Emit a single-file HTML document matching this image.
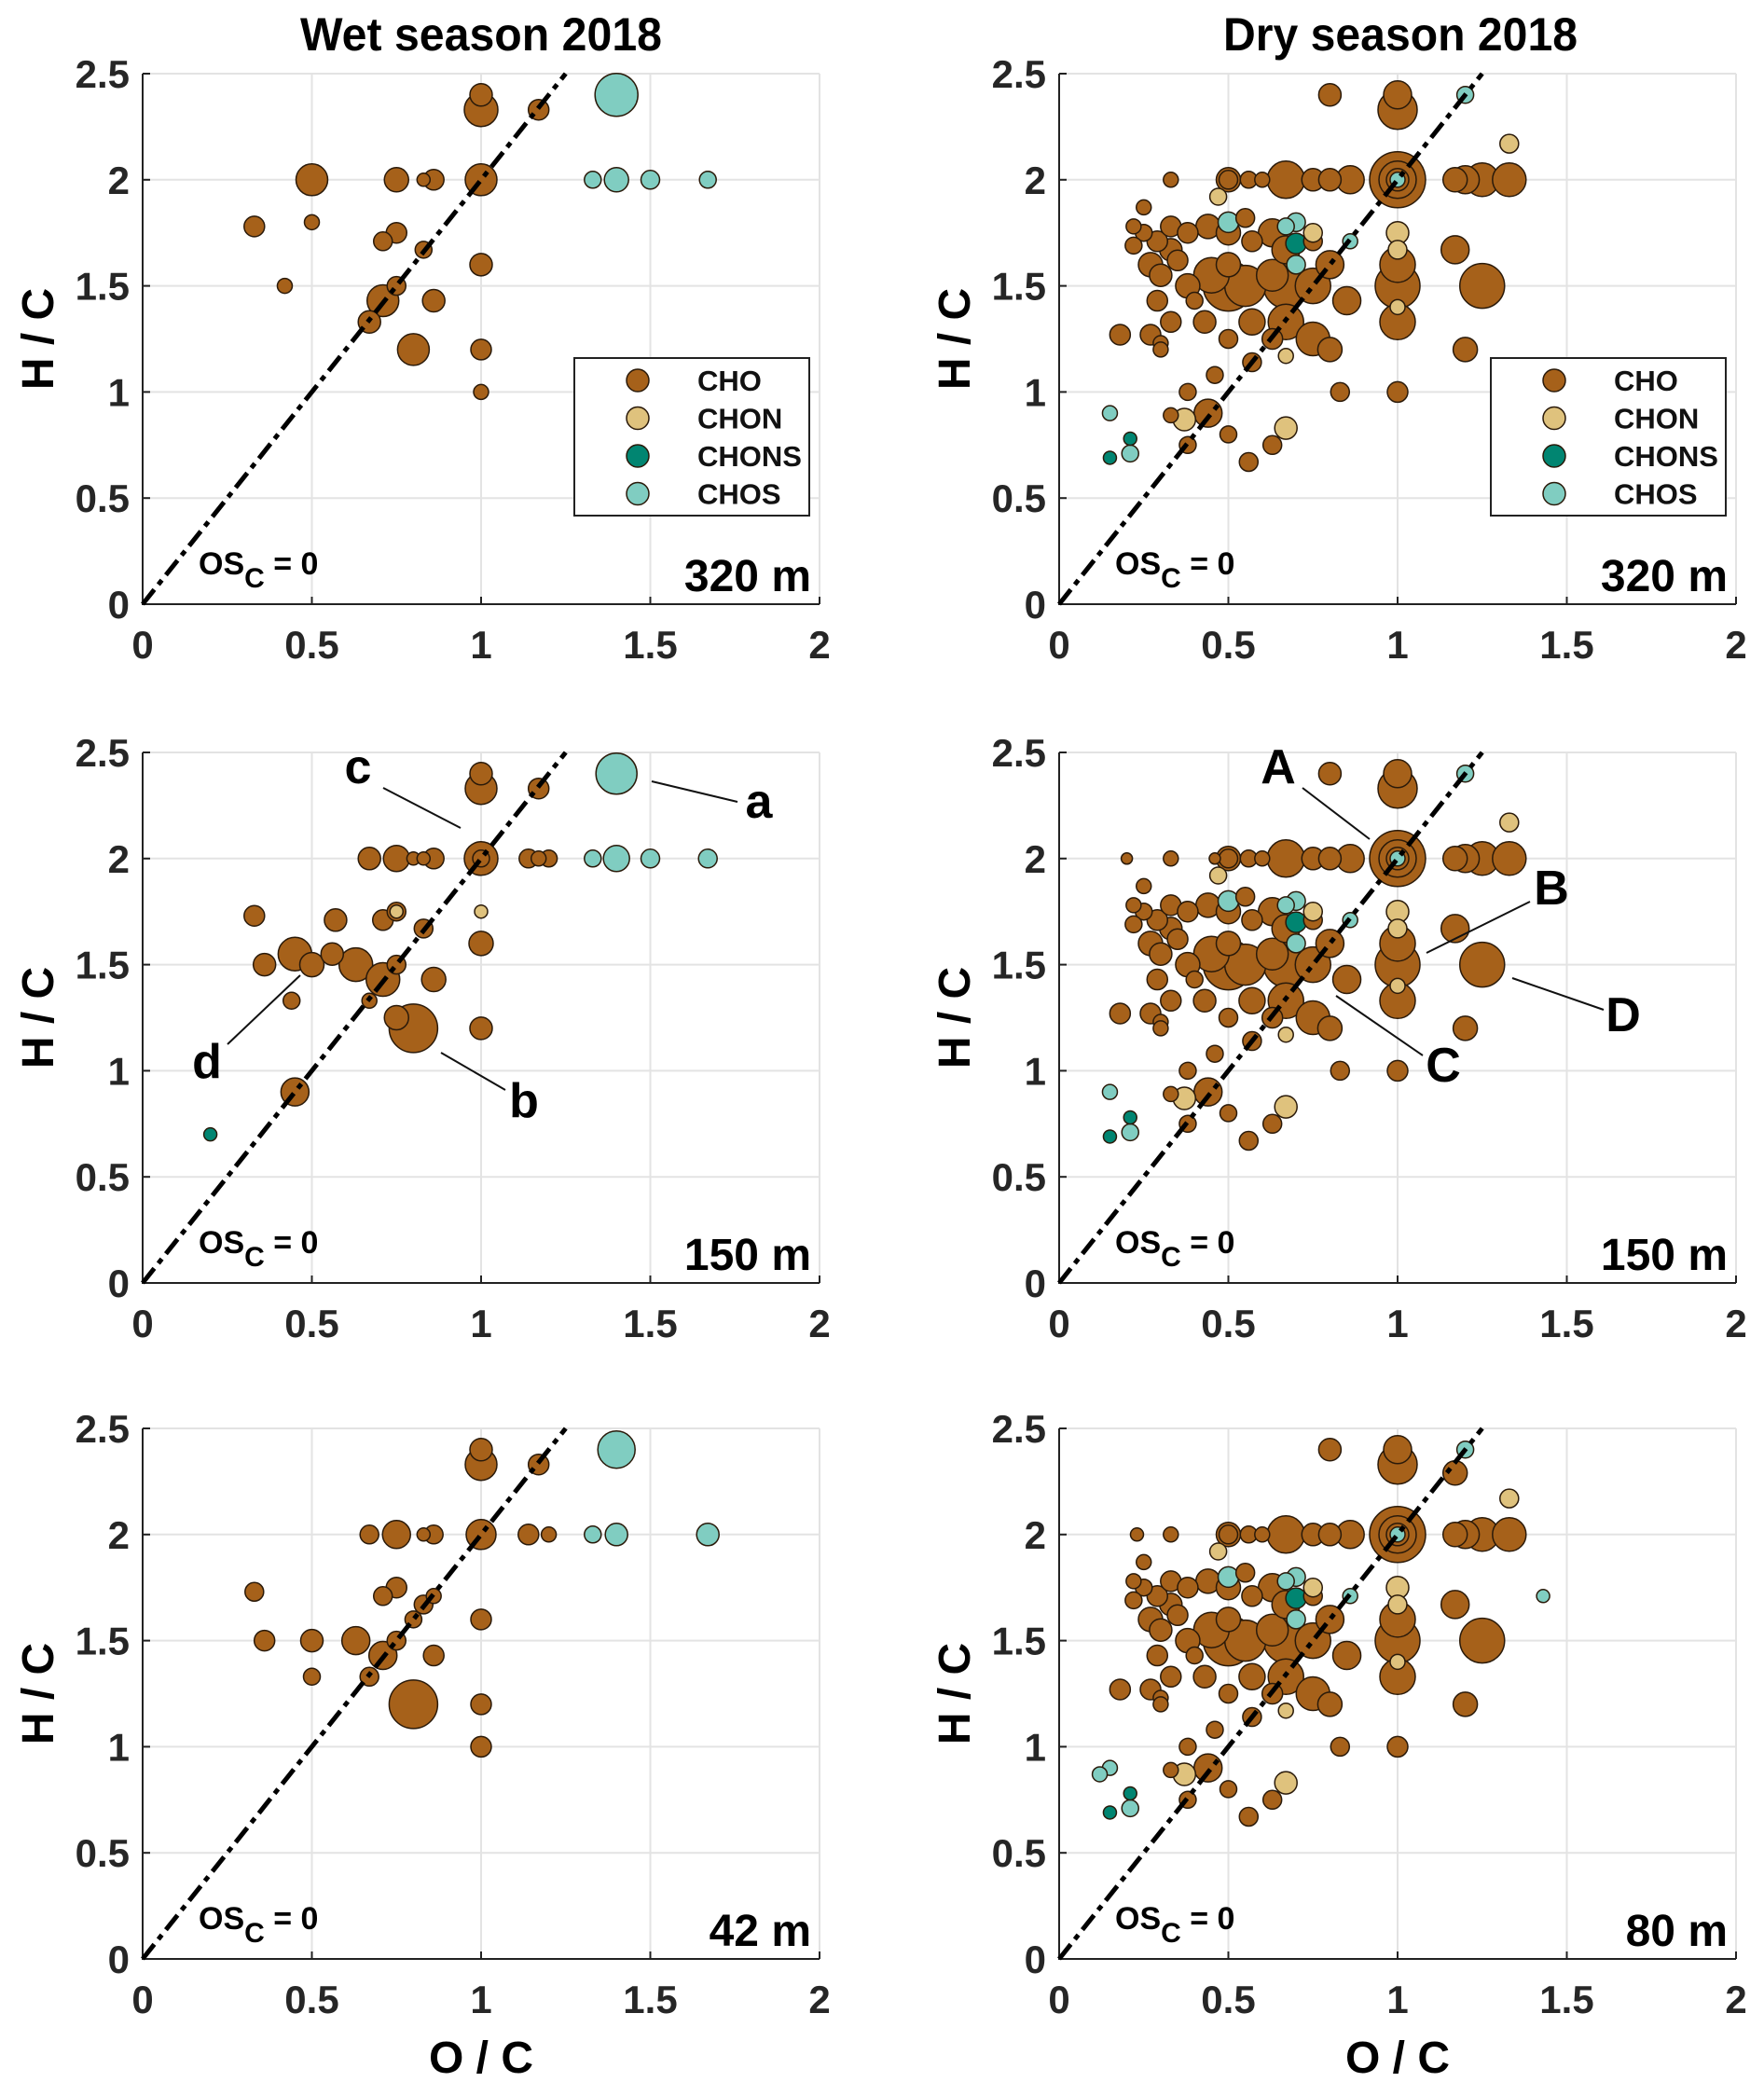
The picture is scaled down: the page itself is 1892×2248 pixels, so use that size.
<!DOCTYPE html>
<html><head><meta charset="utf-8">
<style>
html,body{margin:0;padding:0;background:#fff;}
svg{display:block;font-family:"Liberation Sans Narrow","Liberation Sans",Arial,sans-serif;font-weight:bold;}
.wide{font-family:"Liberation Sans",Arial,sans-serif;}
</style></head>
<body>
<svg id="fig" width="1892" height="2248" viewBox="0 0 1892 2248" xmlns="http://www.w3.org/2000/svg"></svg>
<script>
// ---- data: [O/C, H/C, marker radius, class] ----
const classNames = ["CHO","CHON","CHONS","CHOS"];
const xTicks = [0,0.5,1,1.5,2];
const yTicks = [0,0.5,1,1.5,2,2.5];
const yTickLabels = ["0","0.5","1","1.5","2","2.5"];
const xTickLabels = ["0","0.5","1","1.5","2"];

const wet320 = [
 [0.33,1.78,11,0],[0.5,1.8,8,0],[0.42,1.5,8,0],[0.5,2,17,0],[0.75,2,13,0],[0.83,2,7,0],[0.86,2,11,0],[1,2,17,0],
 [1,2.4,12,0],[1,2.33,18,0],[1.17,2.33,11,0],[0.71,1.71,10,0],[0.75,1.75,11,0],[0.83,1.67,9,0],[0.75,1.5,10,0],
 [0.71,1.43,17,0],[0.67,1.33,12,0],[0.86,1.43,12,0],[0.8,1.2,17,0],[1,1.6,12,0],[1,1.2,11,0],[1,1,8,0],
 [1.4,2.4,23,3],[1.33,2,9,3],[1.4,2,13,3],[1.5,2,10,3],[1.67,2,9,3]
];
const wet150 = [
 [0.67,2,12,0],[0.75,2,14,0],[0.8,2,7,0],[0.83,2,7,0],[0.86,2,11,0],[1,2,18,0],[1,2,9,0],[1.14,2,10,0],[1.17,2,8,0],[1.2,2,9,0],
 [1,2.4,12,0],[1,2.33,17,0],[1.17,2.33,11,0],[0.33,1.73,11,0],[0.57,1.71,12,0],[0.71,1.71,11,0],[0.75,1.75,10,0],[0.83,1.67,10,0],
 [1,1.6,13,0],[0.36,1.5,12,0],[0.45,1.55,18,0],[0.5,1.5,13,0],[0.56,1.55,12,0],[0.63,1.5,18,0],[0.71,1.43,18,0],[0.75,1.5,10,0],
 [0.86,1.43,13,0],[0.44,1.33,9,0],[0.67,1.33,8,0],[0.75,1.25,13,0],[0.8,1.2,26,0],[1,1.2,12,0],[0.45,0.9,15,0],
 [0.75,1.75,7,1],[1,1.75,7,1],[0.2,0.7,7,2],
 [1.4,2.4,22,3],[1.33,2,9,3],[1.4,2,14,3],[1.5,2,10,3],[1.67,2,10,3]
];
const wet42 = [
 [0.67,2,10,0],[0.75,2,15,0],[0.83,2,7,0],[0.86,2,10,0],[1,2,16,0],[1,2.4,12,0],[1,2.33,17,0],[1.14,2,11,0],[1.2,2,8,0],
 [1.17,2.33,11,0],[0.33,1.73,10,0],[0.71,1.71,10,0],[0.75,1.75,11,0],[0.83,1.67,10,0],[0.86,1.71,8,0],[0.8,1.6,9,0],
 [1,1.6,11,0],[0.36,1.5,11,0],[0.5,1.5,12,0],[0.63,1.5,15,0],[0.75,1.5,10,0],[0.71,1.43,15,0],[0.86,1.43,11,0],
 [0.5,1.33,9,0],[0.67,1.33,10,0],[0.8,1.2,26,0],[1,1.2,11,0],[1,1,11,0],
 [1.4,2.4,20,3],[1.33,2,9,3],[1.4,2,12,3],[1.67,2,12,3]
];
const dry320 = [
 [0.33,2,8,0],[0.5,2,13,0],[0.5,2,10,0],[0.56,2,9,0],[0.6,2,8,0],[0.67,2,20,0],[0.75,2,12,0],[0.8,2,12,0],[0.86,2,15,0],
 [1,2,30,0],[1,2,20,0],[1,2,12,0],[1.17,2,13,0],[1.2,2,15,0],[1.25,2,18,0],[1.33,2,18,0],
 [0.8,2.4,12,0],[1,2.4,15,0],[1,2.33,21,0],
 [0.25,1.87,8,0],[0.22,1.78,8,0],[0.25,1.75,9,0],[0.29,1.71,11,0],[0.33,1.67,12,0],[0.33,1.78,11,0],[0.38,1.75,11,0],
 [0.44,1.78,13,0],[0.5,1.75,13,0],[0.55,1.82,10,0],[0.57,1.71,11,0],[0.63,1.75,15,0],[0.67,1.67,15,0],[0.75,1.71,10,0],
 [0.22,1.69,9,0],[0.27,1.6,13,0],[0.3,1.55,12,0],[0.35,1.62,11,0],[0.45,1.55,19,0],[0.5,1.6,13,0],[0.55,1.5,22,0],
 [0.5,1.5,27,0],[0.63,1.55,17,0],[0.67,1.5,24,0],[0.75,1.5,19,0],[0.8,1.6,15,0],[0.85,1.43,15,0],[0.38,1.5,13,0],
 [0.29,1.43,11,0],[0.4,1.43,9,0],[0.43,1.33,12,0],[0.33,1.33,11,0],[0.57,1.33,14,0],[0.67,1.33,19,0],[0.75,1.25,18,0],
 [0.8,1.2,13,0],[0.27,1.27,11,0],[0.18,1.27,11,0],[0.3,1.23,8,0],[0.3,1.2,8,0],[0.5,1.25,10,0],[0.63,1.25,11,0],
 [0.57,1.14,10,0],[0.46,1.08,9,0],[0.38,1,9,0],[0.83,1,10,0],[1,1,11,0],[0.44,0.9,15,0],[0.33,0.89,8,0],[0.5,0.8,9,0],
 [0.63,0.75,10,0],[0.56,0.67,10,0],[0.38,0.75,9,0],[1.17,1.67,15,0],[1.25,1.5,24,0],[1,1.6,19,0],[1,1.5,24,0],
 [1,1.33,19,0],[1.2,1.2,13,0],
 [0.47,1.92,9,1],[0.75,1.75,10,1],[1,1.75,12,1],[1,1.67,10,1],[1,1.4,8,1],[0.67,1.17,8,1],[0.37,0.87,12,1],[0.67,0.83,12,1],[1.33,2.17,10,1],
 [0.7,1.7,11,2],[0.15,0.69,7,2],[0.21,0.78,7,2],
 [0.5,1.8,11,3],[0.67,1.78,9,3],[0.7,1.8,10,3],[0.7,1.6,10,3],[0.86,1.71,8,3],[1,2,8,3],[1.2,2.4,9,3],[0.15,0.9,8,3],[0.21,0.71,9,3]
];
const dry150 = dry320.concat([[0.46,2,6,0],[0.2,2,6,0]]);
const dry80 = dry320.concat([[1.43,1.71,7,3],[1.17,2.29,13,0],[0.12,0.87,8,3],[0.23,2,7,0]]);

const panelData = [wet320, dry320, wet150, dry150, wet42, dry80];
const panelDepths = ["320 m","320 m","150 m","150 m","42 m","80 m"];
const colors = ["#a6611a","#dfc27d","#018571","#80cdc1"];

const NS = "http://www.w3.org/2000/svg";
const svg = document.getElementById("fig");
function mk(tag, attrs, parent){
  const e = document.createElementNS(NS, tag);
  for (const k in attrs) e.setAttribute(k, attrs[k]);
  (parent||svg).appendChild(e);
  return e;
}
const colX = [153, 1136];
const rowY0 = [648, 1376, 2101];
const W = 726, H = 569;

// titles
let t = mk("text",{x:516,y:54,"font-size":50,"text-anchor":"middle",textLength:388,lengthAdjust:"spacingAndGlyphs"}); t.textContent="Wet season 2018";


t = mk("text",{x:1502,y:54,"font-size":50,"text-anchor":"middle",textLength:380,lengthAdjust:"spacingAndGlyphs"}); t.textContent="Dry season 2018";



panelData.forEach((data, p) => {
  const col = p % 2, row = Math.floor(p/2);
  const x0 = colX[col], y0 = rowY0[row];
  const sx = v => x0 + v/2*W;
  const sy = v => y0 - v/2.5*H;
  const g = mk("g",{});
  
  
  // grid
  xTicks.forEach(v => { if(v>0) mk("line",{x1:sx(v),x2:sx(v),y1:sy(0),y2:sy(2.5),stroke:"#e3e3e3","stroke-width":2},g); });
  yTicks.forEach(v => { if(v>0) mk("line",{x1:sx(0),x2:sx(2),y1:sy(v),y2:sy(v),stroke:"#e3e3e3","stroke-width":2},g); });
  // axes
  const ax = mk("path",{d:`M${sx(0)},${sy(2.5)}V${sy(0)}H${sx(2)}`,fill:"none",stroke:"#222","stroke-width":2},g);
  
  
  xTicks.forEach((v,i) => {
    mk("line",{x1:sx(v),x2:sx(v),y1:sy(0),y2:sy(0)-8,stroke:"#222","stroke-width":2},g);
    const l = mk("text",{x:sx(v),y:y0+58,"font-size":42,"text-anchor":"middle",fill:"#262626"},g);
    l.textContent = xTickLabels[i];
    
    
  });
  yTicks.forEach((v,i) => {
    mk("line",{x1:sx(0),x2:sx(0)+8,y1:sy(v),y2:sy(v),stroke:"#222","stroke-width":2},g);
    const l = mk("text",{x:x0-14,y:sy(v)+15,"font-size":42,"text-anchor":"end",fill:"#262626"},g);
    l.textContent = yTickLabels[i];
    
    
  });
  const yl = mk("text",{x:0,y:0,"font-size":48,"text-anchor":"middle",transform:`translate(${x0-96},${sy(1.25)}) rotate(-90)`},g);
  yl.textContent = "H / C";
  
  
  if (row===2){
    const xl = mk("text",{x:sx(1),y:y0+122,"font-size":48,"text-anchor":"middle"},g);
    xl.textContent = "O / C";
    
    
  }
  // points, larger first
  const sorted = data.slice().sort((a,b)=>b[2]-a[2]);
  sorted.forEach(d => {
    const c = mk("circle",{cx:sx(d[0]),cy:sy(d[1]),r:d[2],fill:colors[d[3]],stroke:"#2a1a0a","stroke-width":1.5},g);
    
    
  });
  // OSc=0 line
  const ln = mk("line",{x1:sx(0),y1:sy(0),x2:sx(1.25),y2:sy(2.5),stroke:"#000","stroke-width":5,"stroke-dasharray":"20 7 6 7"},g);
  
  
  const os = mk("text",{x:x0+60,y:y0-32,"font-size":34},g);
  os.innerHTML = 'OS<tspan dy="14" font-size="30">C</tspan><tspan dy="-14"> = 0</tspan>';
  
  
  const dp = mk("text",{x:x0+717,y:y0-14,"font-size":48,"text-anchor":"end"},g);
  dp.textContent = panelDepths[p];
  
  
  // legend
  if (row===0){
    const lx = x0+463, ly = 384;
    const lg = mk("g",{},g);
    
    
    mk("rect",{x:lx,y:ly,width:252,height:169,fill:"#fff",stroke:"#222","stroke-width":2},lg);
    classNames.forEach((n,i)=>{
      const e = mk("g",{},lg);
      
      
      mk("circle",{cx:lx+68,cy:ly+24+i*40.5,r:12,fill:colors[i],stroke:"#2a1a0a","stroke-width":1.5},e);
      const tx = mk("text",{x:lx+132,y:ly+35+i*40.5,"font-size":31,fill:"#111"},e);
      tx.textContent = n;
    });
  }
});

// annotations
const notes = [
 ["c",384,840,[411,845,494,888]],["a",814,877,[699,838,791,860]],["d",222,1156,[244,1120,322,1046]],["b",562,1198,[473,1129,542,1169]],
 ["A",1371,840,[1397,845,1469,900]],["B",1664,970,[1641,967,1530,1022]],["D",1741,1106,[1720,1083,1622,1049]],["C",1548,1160,[1526,1132,1433,1068]]
];
notes.forEach(n=>{
  mk("line",{x1:n[3][0],y1:n[3][1],x2:n[3][2],y2:n[3][3],stroke:"#111","stroke-width":2});
  const tx = mk("text",{x:n[1],y:n[2],"font-size":52,"text-anchor":"middle","class":"wide"});
  tx.textContent = n[0];
  
  
});
</script>
</body></html>
